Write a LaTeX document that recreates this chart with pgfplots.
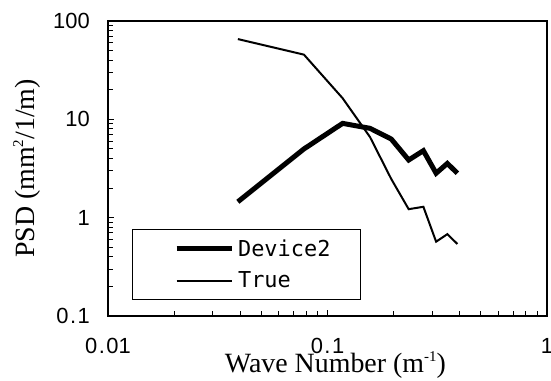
\documentclass[border=0pt]{standalone}
\usepackage{pgfplots}
\pgfplotsset{compat=1.18}
\usepackage{fontspec}
\setmainfont{Liberation Serif}
\newfontfamily\tickfont{Liberation Sans}
\newfontfamily\legfont{DejaVu Sans Mono}
\newcommand{\sups}[1]{\raisebox{0.42em}{\fontsize{15}{15}\selectfont #1}}

\begin{document}
\begin{tikzpicture}
\begin{axis}[
  at={(108bp,65bp)}, anchor=south west,
  scale only axis, width=439bp, height=295bp,
  xmode=log, ymode=log,
  xmin=0.01, xmax=1, ymin=0.1, ymax=100,
  axis line style={line width=2.4bp},
  tick style={black, line width=0.9bp},
  major tick length=6bp, minor tick length=5bp,
  xtick pos=left, ytick pos=left,
  tick align=inside,
  xtick={0.01,0.1,1}, ytick={0.1,1,10,100},
  xticklabels={0\kern1.5bp.\kern1.5bp01, 0\kern1.5bp.\kern1.5bp1, 1},
  yticklabels={0\kern1.5bp.\kern1.5bp1, 1, 10, 100},
  ticklabel style={font=\tickfont\fontsize{22}{22}\selectfont},
  xticklabel style={anchor=base, yshift=-37bp},
  yticklabel style={anchor=east, inner sep=0pt, xshift=-18bp},
  xlabel={Wave Number (m\sups{-1})},
  ylabel={PSD (mm\sups{2}/1/m)},
  label style={font=\fontsize{28}{28}\selectfont},
  xlabel style={at={(axis description cs:0.518,-0.193)}, anchor=base},
  ylabel style={at={(axis description cs:-0.1845,0.5)}, anchor=center},
  legend style={at={(0.054,0.294)}, anchor=north west, draw=black, line width=0.8bp,
    font=\legfont\fontsize{22}{22}\selectfont, inner xsep=30bp, inner ysep=10bp,
    row sep=14bp, column sep=4bp, nodes={inner sep=0pt}},
  legend cell align=left,
  legend image code/.code={\path (0bp,0bp); \draw[#1] (12bp,0bp) -- (67bp,0bp);},
]
\addplot[black, line width=5bp] coordinates {
 (0.0390625,1.45) (0.078125,5.0) (0.1171875,9.1) (0.15625,8.1) (0.1953125,6.3)
 (0.234375,3.86) (0.2734375,4.8) (0.3125,2.83) (0.3515625,3.56) (0.390625,2.83)
};
\addlegendentry{Device2}
\addplot[black, line width=2bp] coordinates {
 (0.0390625,65.5) (0.078125,45.5) (0.1171875,16.4) (0.15625,6.6) (0.1953125,2.47)
 (0.234375,1.22) (0.2734375,1.29) (0.3125,0.57) (0.3515625,0.68) (0.390625,0.54)
};
\addlegendentry{True}
\end{axis}
\pgfresetboundingbox
\path[use as bounding box] (0bp,0bp) rectangle (551bp,381bp);
\end{tikzpicture}
\end{document}
